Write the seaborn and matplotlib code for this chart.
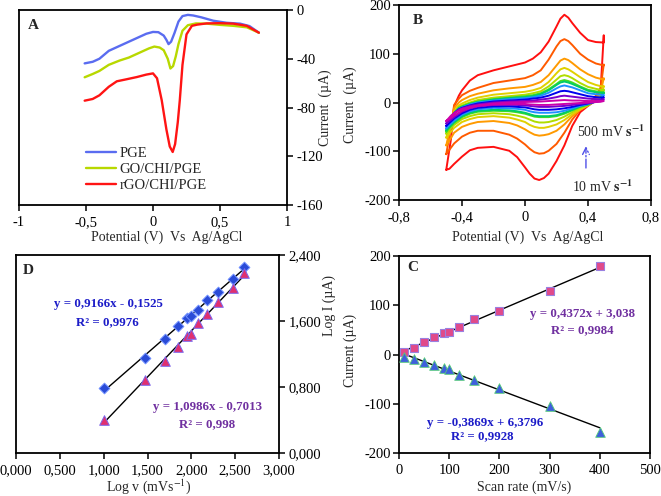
import matplotlib
matplotlib.use("Agg")
import matplotlib.pyplot as plt
import seaborn as sns
import pandas as pd

# ---------------- Panel A : DPV-like curves ----------------
a_pge_x = [-0.51, -0.45, -0.40, -0.33, -0.27, -0.20, -0.12, -0.05, 0.00, 0.04, 0.08, 0.10, 0.116, 0.135,
           0.16, 0.19, 0.22, 0.26, 0.30, 0.36, 0.45, 0.55, 0.65, 0.72, 0.79]
a_pge_y = [-43.8, -42.5, -40.0, -33.5, -30.5, -27.0, -23.0, -19.5, -18.0, -18.2, -21.0, -24.5, -28.0, -26.0,
           -19.0, -9.5, -5.0, -4.0, -4.5, -6.0, -8.8, -10.5, -11.2, -13.2, -18.6]
a_go_x = [-0.51, -0.45, -0.40, -0.33, -0.25, -0.18, -0.10, -0.03, 0.01, 0.05, 0.08, 0.11, 0.130, 0.15,
          0.17, 0.19, 0.22, 0.26, 0.32, 0.40, 0.50, 0.60, 0.70, 0.79]
a_go_y = [-55.2, -52.5, -50.0, -45.0, -41.5, -39.0, -35.0, -31.5, -30.0, -30.8, -33.0, -40.0, -48.0, -46.0,
          -38.0, -28.0, -17.0, -12.5, -11.0, -11.2, -12.2, -13.0, -14.2, -18.6]
a_rgo_x = [-0.51, -0.45, -0.40, -0.33, -0.27, -0.20, -0.12, -0.05, 0.00, 0.03, 0.065, 0.10, 0.125, 0.147,
           0.165, 0.185, 0.20, 0.22, 0.25, 0.29, 0.33, 0.40, 0.50, 0.60, 0.70, 0.79]
a_rgo_y = [-74.4, -73.0, -70.0, -63.0, -58.5, -56.9, -55.0, -53.0, -52.0, -56.0, -74.0, -98.0, -112.0, -116.5,
           -110.0, -92.0, -74.0, -45.0, -20.0, -13.0, -12.0, -11.0, -10.8, -11.2, -13.0, -18.6]
a_labels = ["PGE", "GO/CHI/PGE", "rGO/CHI/PGE"]
a_colors = ["#5a6cf0", "#b8d800", "#ff1414"]

# ---------------- Panel B : cyclic voltammograms ----------------
cv_E_fwd = [-0.5, -0.47, -0.45, -0.42, -0.4, -0.35, -0.3, -0.2, -0.1, 0.0, 0.05, 0.1, 0.15,
            0.2, 0.225, 0.25, 0.275, 0.3, 0.35, 0.4, 0.45, 0.5]
cv_E_rev = [0.5, 0.48, 0.45, 0.4, 0.35, 0.3, 0.25, 0.2, 0.15, 0.12, 0.09, 0.06, 0.03, 0.0,
            -0.05, -0.1, -0.2, -0.3, -0.35, -0.4, -0.45, -0.48, -0.5]
cv_rates = [400, 300, 200, 150, 120, 100, 90, 70, 50, 30, 10]
cv_colors = ["#ff1010", "#ff5a00", "#ff9a00", "#e0d000", "#b0dd00", "#44dd22",
             "#00cc66", "#1e90ff", "#0000ee", "#7700cc", "#cc00aa"]
cv_fwd_400 = [-138, -75, -8, 14, 25, 45, 56, 66, 74, 82, 90, 103, 125, 156, 172, 180, 174, 163, 143, 128, 124, 123]
cv_rev_400 = [138, 26, 4, -7, -20, -48, -88, -120, -146, -155, -159, -156, -146, -133, -112, -99, -91, -93, -98,
              -111, -126, -136, -138]
cv_fwd_300 = [-106, -50, -5, 8, 15, 24, 30, 40, 45, 50, 56, 66, 88, 115, 126, 130, 126, 118, 100, 88, 80, 76]
cv_rev_300 = [78, 30, 14, -4, -15, -35, -62, -85, -99, -104, -105, -102, -95, -86, -74, -66, -58, -58, -62,
              -70, -84, -97, -106]
cv_fwd_200 = [-88, -45, -12, 0, 5, 13, 18, 25, 29, 32, 36, 42, 56, 76, 86, 90, 87, 81, 68, 58, 51, 47]
cv_rev_200 = [50, 20, 8, -6, -15, -28, -45, -58, -65, -67, -68, -66, -61, -55, -47, -42, -38, -40, -44,
              -50, -62, -78, -88]
cv_fwd_150 = [-72, -40, -18, -6, -2, 5, 10, 16, 19, 22, 25, 30, 42, 60, 68, 71, 68, 63, 52, 42, 36, 32]
cv_rev_150 = [34, 14, 5, -6, -14, -24, -36, -45, -50, -52, -52, -50, -46, -40, -35, -31, -28, -30, -34,
              -40, -52, -64, -72]
cv_fwd_120 = [-64, -38, -20, -9, -6, 0, 5, 10, 13, 16, 19, 23, 33, 47, 54, 56, 54, 50, 40, 32, 28, 25]
cv_rev_120 = [27, 11, 4, -5, -11, -20, -29, -36, -40, -41, -41, -39, -35, -31, -27, -24, -22, -24, -28,
              -34, -46, -56, -64]
cv_fwd_100 = [-60, -36, -22, -11, -8, -2, 2, 7, 10, 13, 15, 19, 27, 38, 44, 46, 44, 41, 33, 26, 23, 21]
cv_rev_100 = [22, 9, 3, -4, -9, -16, -23, -28, -30, -30, -30, -29, -26, -23, -20, -18, -17, -19, -23,
              -30, -42, -52, -60]
cv_fwd_90 = [-57, -35, -22, -12, -9, -3, 1, 6, 9, 11, 13, 17, 25, 36, 41, 43, 41, 38, 31, 24, 21, 19]
cv_rev_90 = [20, 8, 3, -4, -8, -15, -21, -26, -28, -28, -28, -27, -24, -21, -18, -16, -15, -17, -21,
             -28, -40, -50, -57]
cv_fwd_70 = [-53, -33, -22, -13, -10, -4, 0, 4, 7, 9, 11, 14, 20, 29, 33, 35, 33, 31, 25, 19, 17, 15]
cv_rev_70 = [16, 6, 2, -3, -7, -12, -17, -20, -21, -21, -21, -20, -18, -15, -13, -12, -11, -14, -18,
             -25, -37, -46, -53]
cv_fwd_50 = [-48, -31, -22, -14, -11, -6, -2, 2, 4, 6, 8, 10, 14, 20, 23, 24, 23, 21, 17, 13, 11, 10]
cv_rev_50 = [11, 4, 2, -2, -5, -9, -12, -14, -15, -15, -15, -14, -12, -10, -9, -8, -8, -11, -15,
             -22, -33, -42, -48]
cv_fwd_30 = [-43, -29, -22, -15, -12, -7, -4, 0, 2, 3, 4, 6, 8, 11, 13, 14, 13, 12, 10, 8, 7, 6]
cv_rev_30 = [7, 3, 1, -1, -3, -5, -7, -8, -9, -9, -9, -8, -7, -6, -5, -5, -5, -8, -12,
             -19, -30, -38, -43]
cv_fwd_10 = [-38, -27, -22, -16, -13, -9, -6, -2, 0, 1, 1.5, 2, 3, 4, 4.5, 5, 4.5, 4, 4, 3, 3, 3]
cv_rev_10 = [3, 1.5, 1, 0, -1, -2, -3, -4, -5, -5, -5, -4.5, -4, -3, -3, -3, -4, -7, -11,
             -17, -27, -34, -38]

# ---------------- Panel C : peak currents vs scan rate ----------------
scan_rate = [10, 30, 50, 70, 90, 100, 120, 150, 200, 300, 400]
ipa = [5.1, 13.9, 24.7, 35.5, 43.7, 45.7, 55.8, 71.4, 88.3, 128.9, 179.0]
ipc = [-5.0, -10.0, -16.0, -22.0, -27.0, -29.0, -41.0, -51.0, -68.0, -104.6, -157.0]

# ---------------- Panel D : log I vs log v ----------------
log_v = [1.000, 1.477, 1.699, 1.845, 1.954, 2.000, 2.079, 2.176, 2.301, 2.477, 2.602]
log_ipa = [0.787, 1.150, 1.380, 1.537, 1.640, 1.660, 1.734, 1.855, 1.948, 2.110, 2.259]
log_ipc = [0.403, 0.887, 1.121, 1.283, 1.420, 1.444, 1.581, 1.686, 1.827, 2.005, 2.186]

# ---------------- ticks ----------------
a_xticks = [-1, -0.5, 0, 0.5, 1]
a_xticklabels = ["-1", "-0,5", "0", "0,5", "1"]
a_yticks = [0, -40, -80, -120, -160]
a_yticklabels = ["0", "-40", "-80", "-120", "-160"]
b_xticks = [-0.8, -0.4, 0, 0.4, 0.8]
b_xticklabels = ["-0,8", "-0,4", "0", "0,4", "0,8"]
b_yticks = [200, 100, 0, -100, -200]
b_yticklabels = ["200", "100", "0", "-100", "-200"]
c_xticks = [0, 100, 200, 300, 400, 500]
c_xticklabels = ["0", "100", "200", "300", "400", "500"]
c_yticks = [200, 100, 0, -100, -200]
c_yticklabels = ["200", "100", "0", "-100", "-200"]
d_xticks = [0, 0.5, 1.0, 1.5, 2.0, 2.5, 3.0]
d_xticklabels = ["0,000", "0,500", "1,000", "1,500", "2,000", "2,500", "3,000"]
d_yticks = [0, 0.8, 1.6, 2.4]
d_yticklabels = ["0,000", "0,800", "1,600", "2,400"]

sns.set_theme(style="white")
plt.rcParams["font.family"] = ["Liberation Serif", "DejaVu Serif"]
plt.rcParams["mathtext.fontset"] = "stix"
plt.rcParams["axes.unicode_minus"] = False

W, H = 661, 496
fig = plt.figure(figsize=(W / 100, H / 100), dpi=100)


def box(l, t, r, b):
    return [l / W, 1 - b / H, (r - l) / W, (b - t) / H]


def ftext(x, y, s, **kw):
    fig.text(x / W, 1 - y / H, s, ha="center", va="center", **kw)


axA = fig.add_axes(box(19, 10, 287, 205))
axB = fig.add_axes(box(399, 5, 651, 200))
axD = fig.add_axes(box(16, 255, 279, 453))
axC = fig.add_axes(box(399, 256, 650, 453))

TICK_FS = 10.5
for ax in (axA, axB, axC, axD):
    for sp in ax.spines.values():
        sp.set_visible(True)
        sp.set_color("black")
        sp.set_linewidth(1.3)
    ax.tick_params(direction="out", length=4, width=1.1, colors="black",
                   labelsize=TICK_FS, pad=2, bottom=True, left=True)

# ---- A
dfA = pd.concat([
    pd.DataFrame({"E": a_pge_x, "I": a_pge_y, "electrode": a_labels[0]}),
    pd.DataFrame({"E": a_go_x, "I": a_go_y, "electrode": a_labels[1]}),
    pd.DataFrame({"E": a_rgo_x, "I": a_rgo_y, "electrode": a_labels[2]}),
])
sns.lineplot(data=dfA, x="E", y="I", hue="electrode", hue_order=a_labels,
             palette=a_colors, lw=1.7, ax=axA, estimator=None, sort=False)
axA.set_xlim(-1, 1)
axA.set_ylim(-160, 0)
axA.set_xticks(a_xticks)
axA.set_xticklabels(a_xticklabels)
axA.set_yticks(a_yticks)
axA.set_yticklabels(a_yticklabels)
axA.yaxis.tick_right()
axA.tick_params(axis="y", right=True, left=False, pad=3)
axA.tick_params(axis="x", pad=4)
axA.set_xlabel("")
axA.set_ylabel("")
leg = axA.legend(loc="upper left", bbox_to_anchor=(0.23, 0.33), frameon=False,
                 fontsize=10.5, handlelength=2.0, handletextpad=0.25, labelspacing=0.2,
                 borderaxespad=0)
for ln in leg.get_lines():
    ln.set_linewidth(1.7)
axA.text(0.034, 0.918, "A", transform=axA.transAxes, fontsize=11, fontweight="bold",
         ha="left", va="center")

# ---- B
cv_fwd = [cv_fwd_400, cv_fwd_300, cv_fwd_200, cv_fwd_150, cv_fwd_120, cv_fwd_100,
          cv_fwd_90, cv_fwd_70, cv_fwd_50, cv_fwd_30, cv_fwd_10]
cv_rev = [cv_rev_400, cv_rev_300, cv_rev_200, cv_rev_150, cv_rev_120, cv_rev_100,
          cv_rev_90, cv_rev_70, cv_rev_50, cv_rev_30, cv_rev_10]
for rate, col, f, r in zip(cv_rates, cv_colors, cv_fwd, cv_rev):
    d = pd.DataFrame({"E": cv_E_fwd + cv_E_rev, "I": f + r})
    sns.lineplot(data=d, x="E", y="I", color=col, lw=1.4, ax=axB,
                 estimator=None, sort=False)
axB.set_xlim(-0.8, 0.8)
axB.set_ylim(-200, 200)
axB.set_xticks(b_xticks)
axB.set_xticklabels(b_xticklabels)
axB.set_yticks(b_yticks)
axB.set_yticklabels(b_yticklabels)
axB.tick_params(axis="x", pad=4)
axB.set_xlabel("")
axB.set_ylabel("")
axB.text(0.056, 0.923, "B", transform=axB.transAxes, fontsize=11, fontweight="bold",
         ha="left", va="center")
axB.text(0.33, -60, r"500 mV $\mathbf{s^{-1}}$", fontsize=10, ha="left", va="center")
axB.text(0.30, -173, r"10 mV $\mathbf{s^{-1}}$", fontsize=10, ha="left", va="center")
axB.annotate("", xy=(0.387, -84), xytext=(0.387, -140),
             arrowprops=dict(arrowstyle="->", color="#5050e8", lw=1.0, linestyle="-."))

# ---- C
sns.regplot(x=scan_rate, y=ipa, scatter=False, ci=None, truncate=True, ax=axC,
            line_kws=dict(color="black", lw=1.0))
sns.regplot(x=scan_rate, y=ipc, scatter=False, ci=None, truncate=True, ax=axC,
            line_kws=dict(color="black", lw=1.0))
sns.scatterplot(x=scan_rate, y=ipa, marker="s", s=38, color="#e04a8a",
                edgecolor="#9a80e0", linewidth=0.8, ax=axC, zorder=3)
sns.scatterplot(x=scan_rate, y=ipc, marker="^", s=48, color="#3f5fdc",
                edgecolor="#55cc77", linewidth=0.6, ax=axC, zorder=3)
axC.set_xlim(0, 500)
axC.set_ylim(-200, 200)
axC.set_xticks(c_xticks)
axC.set_xticklabels(c_xticklabels)
axC.set_yticks(c_yticks)
axC.set_yticklabels(c_yticklabels)
axC.tick_params(axis="x", pad=4)
axC.set_xlabel("")
axC.set_ylabel("")
axC.text(0.032, 0.944, "C", transform=axC.transAxes, fontsize=11, fontweight="bold",
         ha="left", va="center")
PURPLE = "#7030a0"
BLUE = "#1c1cc8"
axC.text(0.733, 0.706, "y = 0,4372x + 3,038", transform=axC.transAxes, color=PURPLE,
         fontsize=9.3, fontweight="bold", ha="center", va="center")
axC.text(0.729, 0.624, "R² = 0,9984", transform=axC.transAxes, color=PURPLE,
         fontsize=9.3, fontweight="bold", ha="center", va="center")
axC.text(0.343, 0.152, "y = -0,3869x + 6,3796", transform=axC.transAxes, color=BLUE,
         fontsize=9.3, fontweight="bold", ha="center", va="center")
axC.text(0.331, 0.086, "R² = 0,9928", transform=axC.transAxes, color=BLUE,
         fontsize=9.3, fontweight="bold", ha="center", va="center")

# ---- D
sns.regplot(x=log_v, y=log_ipa, scatter=False, ci=None, truncate=True, ax=axD,
            line_kws=dict(color="black", lw=1.0))
sns.regplot(x=log_v, y=log_ipc, scatter=False, ci=None, truncate=True, ax=axD,
            line_kws=dict(color="black", lw=1.0))
sns.scatterplot(x=log_v, y=log_ipa, marker="D", s=30, color="#2a4bd7",
                edgecolor="#7090ff", linewidth=0.7, ax=axD, zorder=3)
sns.scatterplot(x=log_v, y=log_ipc, marker="^", s=48, color="#e0306f",
                edgecolor="#7b68ee", linewidth=0.7, ax=axD, zorder=3)
axD.set_xlim(0, 3)
axD.set_ylim(0, 2.4)
axD.set_xticks(d_xticks)
axD.set_xticklabels(d_xticklabels)
axD.set_yticks(d_yticks)
axD.set_yticklabels(d_yticklabels)
axD.yaxis.tick_right()
axD.tick_params(axis="y", right=True, left=False, pad=3)
axD.tick_params(axis="x", pad=4)
axD.set_xlabel("")
axD.set_ylabel("")
axD.text(0.027, 0.924, "D", transform=axD.transAxes, fontsize=11, fontweight="bold",
         ha="left", va="center")
axD.text(0.350, 0.753, "y = 0,9166x - 0,1525", transform=axD.transAxes, color=BLUE,
         fontsize=9.3, fontweight="bold", ha="center", va="center")
axD.text(0.348, 0.662, "R² = 0,9976", transform=axD.transAxes, color=BLUE,
         fontsize=9.3, fontweight="bold", ha="center", va="center")
axD.text(0.728, 0.232, "y = 1,0986x - 0,7013", transform=axD.transAxes, color=PURPLE,
         fontsize=9.3, fontweight="bold", ha="center", va="center")
axD.text(0.728, 0.146, "R² = 0,998", transform=axD.transAxes, color=PURPLE,
         fontsize=9.3, fontweight="bold", ha="center", va="center")

# ---- axis titles
LAB_FS = 10
ftext(167, 237, "Potential (V)  Vs  Ag/AgCl", fontsize=LAB_FS)
ftext(325, 108, "Current  (µA)", fontsize=LAB_FS, rotation=90)
ftext(528, 237, "Potential (V)  Vs  Ag/AgCl", fontsize=LAB_FS)
ftext(350, 105, "Current  (µA)", fontsize=LAB_FS, rotation=90)
ftext(149, 487, r"Log v (mVs$^{-1}$)", fontsize=LAB_FS)
ftext(329, 305, "Log I (µA)", fontsize=LAB_FS, rotation=90)
ftext(524, 487, "Scan rate (mV/s)", fontsize=LAB_FS)
ftext(350, 350, "Current (µA)", fontsize=LAB_FS, rotation=90)

fig.savefig("out.png", dpi=100)
